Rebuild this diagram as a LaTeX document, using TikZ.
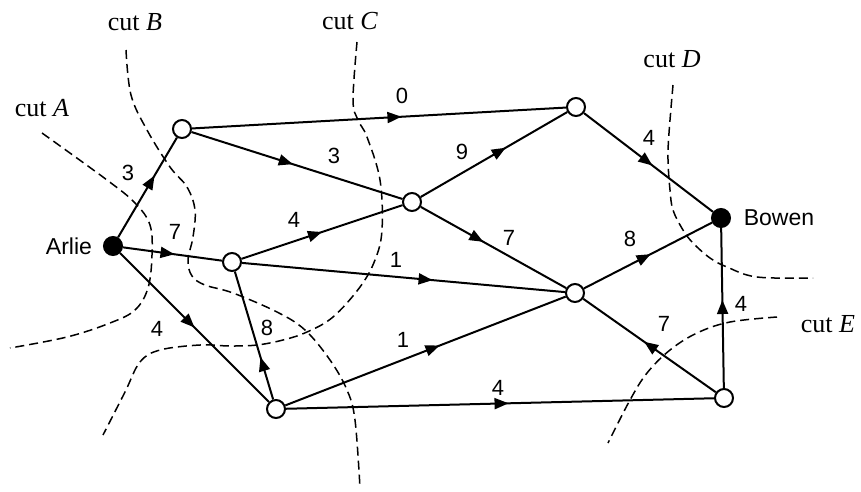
\documentclass[tikz,border=0pt]{standalone}
\usepackage{fontspec}
\setmainfont{Liberation Serif}
\newfontfamily\arialfont{Liberation Sans}
\usetikzlibrary{arrows.meta,decorations.markings}
\begin{document}
\begin{tikzpicture}[x=1pt,y=-1pt,
  vtx/.style={circle,draw,line width=2pt,fill=white,minimum size=18pt,inner sep=0pt},
  term/.style={vtx,fill=black},
  edge/.style={line width=2pt},
  marr/.style={edge,postaction={decorate,decoration={markings,mark=at position #1 with {\arrow{Triangle[length=14pt,width=11pt]}}}}},
  num/.style={font=\arialfont\fontsize{22}{24}\selectfont,inner sep=0pt},
  nmlab/.style={font=\arialfont\fontsize{23}{26}\selectfont,inner sep=0pt},
  cutlab/.style={font=\fontsize{26}{30}\selectfont,inner sep=0pt},
  cutline/.style={line width=1.5pt,dash pattern=on 9pt off 5pt}
]
\useasboundingbox (0,0) rectangle (861,491);

% cuts
\draw[cutline] plot[smooth,tension=0.6] coordinates {(42,133) (107,180) (135,203) (150,225) (152,255) (148,288) (135,310) (110,323) (67,337) (10,348)};
\draw[cutline] plot[smooth,tension=0.6] coordinates {(126,50) (131,95) (147,130) (170,167) (187,187) (195,210) (193,237) (188,260) (192,276) (205,285) (233,293) (277,312) (305,330) (330,360) (347,390) (355,420) (360,488)};
\draw[cutline] plot[smooth,tension=0.6] coordinates {(357,42) (353,100) (358,120) (367,137) (380,180) (382,230) (375,260) (360,287) (333,317) (307,332) (283,340) (257,345) (230,346) (200,345) (160,350) (140,362) (125,392) (103,435)};
\draw[cutline] plot[smooth,tension=0.6] coordinates {(673,85) (669,133) (668,160) (670,190) (673,210) (683,230) (693,243) (710,258) (727,267) (757,277) (813,278)};
\draw[cutline] plot[smooth,tension=0.6] coordinates {(777,317) (730,322) (697,333) (670,350) (647,373) (630,400) (608,443)};

% vertices
\node[term] (ar) at (113,246) {};
\node[vtx] (a) at (182,129) {};
\node[vtx] (b) at (232,262) {};
\node[vtx] (c) at (412,202) {};
\node[vtx] (d) at (576,107) {};
\node[vtx] (e) at (575,293) {};
\node[vtx] (f) at (276,409) {};
\node[vtx] (g) at (724,398) {};
\node[term] (bo) at (721,218) {};

% edges
\draw[marr=0.62] (ar) -- (a);
\draw[marr=0.56] (a) -- (d);
\draw[marr=0.48] (a) -- (c);
\draw[marr=0.52] (ar) -- (b);
\draw[marr=0.50] (ar) -- (f);
\draw[marr=0.50] (b) -- (c);
\draw[marr=0.59] (b) -- (e);
\draw[marr=0.33] (f) -- (b);
\draw[marr=0.55] (f) -- (e);
\draw[marr=0.52] (f) -- (g);
\draw[marr=0.58] (c) -- (d);
\draw[marr=0.43] (c) -- (e);
\draw[marr=0.53] (d) -- (bo);
\draw[marr=0.52] (e) -- (bo);
\draw[marr=0.54] (g) -- (e);
\draw[marr=0.55] (g) -- (bo);

% weights
\node[num] (w1) at (128,173) {3};
\node[num] (w2) at (402,96) {0};
\node[num] (w3) at (334,156) {3};
\node[num] (w4) at (175,232) {7};
\node[num] (w5) at (294,220) {4};
\node[num] (w6) at (396,260) {1};
\node[num] (w7) at (157,329) {4};
\node[num] (w8) at (267,328) {8};
\node[num] (w9) at (403,340) {1};
\node[num] (w10) at (498,388) {4};
\node[num] (w11) at (462,152) {9};
\node[num] (w12) at (509,238) {7};
\node[num] (w13) at (649,138) {4};
\node[num] (w14) at (630,239) {8};
\node[num] (w15) at (664,324) {7};
\node[num] (w16) at (741,304) {4};

% names
\node[nmlab] (nar) at (69,246) {Arlie};
\node[nmlab] (nbo) at (779,218) {Bowen};

% cut labels
\node[cutlab] (ca) at (42,108) {cut \textit{A}};
\node[cutlab] (cb) at (135,22) {cut \textit{B}};
\node[cutlab] (cc) at (350,21) {cut \textit{C}};
\node[cutlab] (cd) at (672,59) {cut \textit{D}};
\node[cutlab] (ce) at (828,324) {cut \textit{E}};
\end{tikzpicture}
\end{document}
